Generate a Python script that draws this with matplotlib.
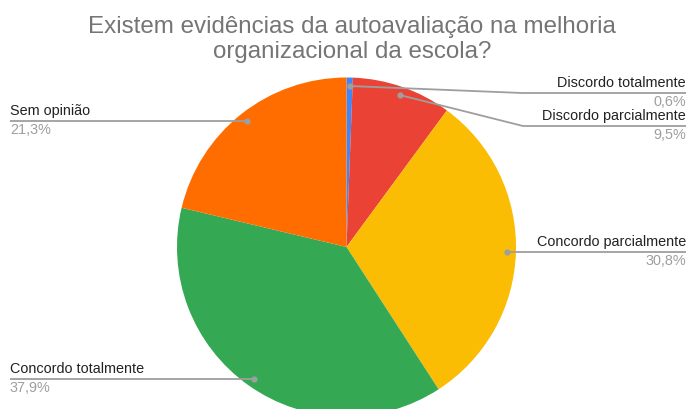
import numpy as np
import matplotlib.pyplot as plt

# Data
labels = ["Discordo totalmente", "Discordo parcialmente", "Concordo parcialmente",
          "Concordo totalmente", "Sem opinião"]
values = [0.6, 9.5, 30.8, 37.9, 21.3]
pct_text = ["0,6%", "9,5%", "30,8%", "37,9%", "21,3%"]
colors = ["#4285F4", "#EA4335", "#FBBC04", "#34A853", "#FF6D01"]
title_lines = ["Existem evidências da autoavaliação na melhoria",
               "organizacional da escola?"]

W, H = 687, 409
plt.rcParams['font.family'] = ['Liberation Sans', 'DejaVu Sans']

fig = plt.figure(figsize=(W / 100, H / 100), dpi=100)
ax = fig.add_axes([0, 0, 1, 1])
ax.set_xlim(0, W)
ax.set_ylim(0, H)
ax.set_aspect('equal')
ax.axis('off')

# pie layout in pixel units (y measured from bottom)
cx, cy, R = 346.5, H - 247, 169.5
wedges, _ = ax.pie(values, colors=colors, startangle=90, counterclock=False,
                   center=(cx, cy), radius=R, wedgeprops=dict(linewidth=0))
ax.set_xlim(0, W)
ax.set_ylim(0, H)

# label layout: side, y of leader line (pixels from top), elbow x
layout = [("right", 93, 522), ("right", 126, 523), ("right", None, None),
          ("left", None, None), ("left", None, None)]

line_col = "#9e9e9e"
total = sum(values)
cum = 0
for i, v in enumerate(values):
    mid = (cum + v / 2) / total * 360
    cum += v
    ang = np.radians(90 - mid)
    dx, dy = cx + 0.95 * R * np.cos(ang), cy + 0.95 * R * np.sin(ang)
    side, ly, ex = layout[i]
    ly = dy if ly is None else H - ly
    if side == "right":
        xs = [dx, ex if ex else dx, W - 1]
        ax.plot(xs, [dy, ly, ly], color=line_col, lw=1.3, solid_capstyle='butt')
        tx, ha = W - 1, "right"
    else:
        ax.plot([dx, 10], [dy, ly], color=line_col, lw=1.3, solid_capstyle='butt')
        tx, ha = 10, "left"
    ax.plot(dx, dy, 'o', color=line_col, ms=4.5, mec='none')
    ax.text(tx, ly + 3, labels[i], ha=ha, va='bottom', fontsize=10.4, color="#222222")
    ax.text(tx, ly - 2, pct_text[i], ha=ha, va='top', fontsize=10.4, color="#9e9e9e")

for k, line in enumerate(title_lines):
    fig.text(352 / W, 1 - (27 + 25 * k) / H, line, ha='center', va='center',
             fontsize=17.4, color="#757575")

fig.savefig("out.png", dpi=100)
